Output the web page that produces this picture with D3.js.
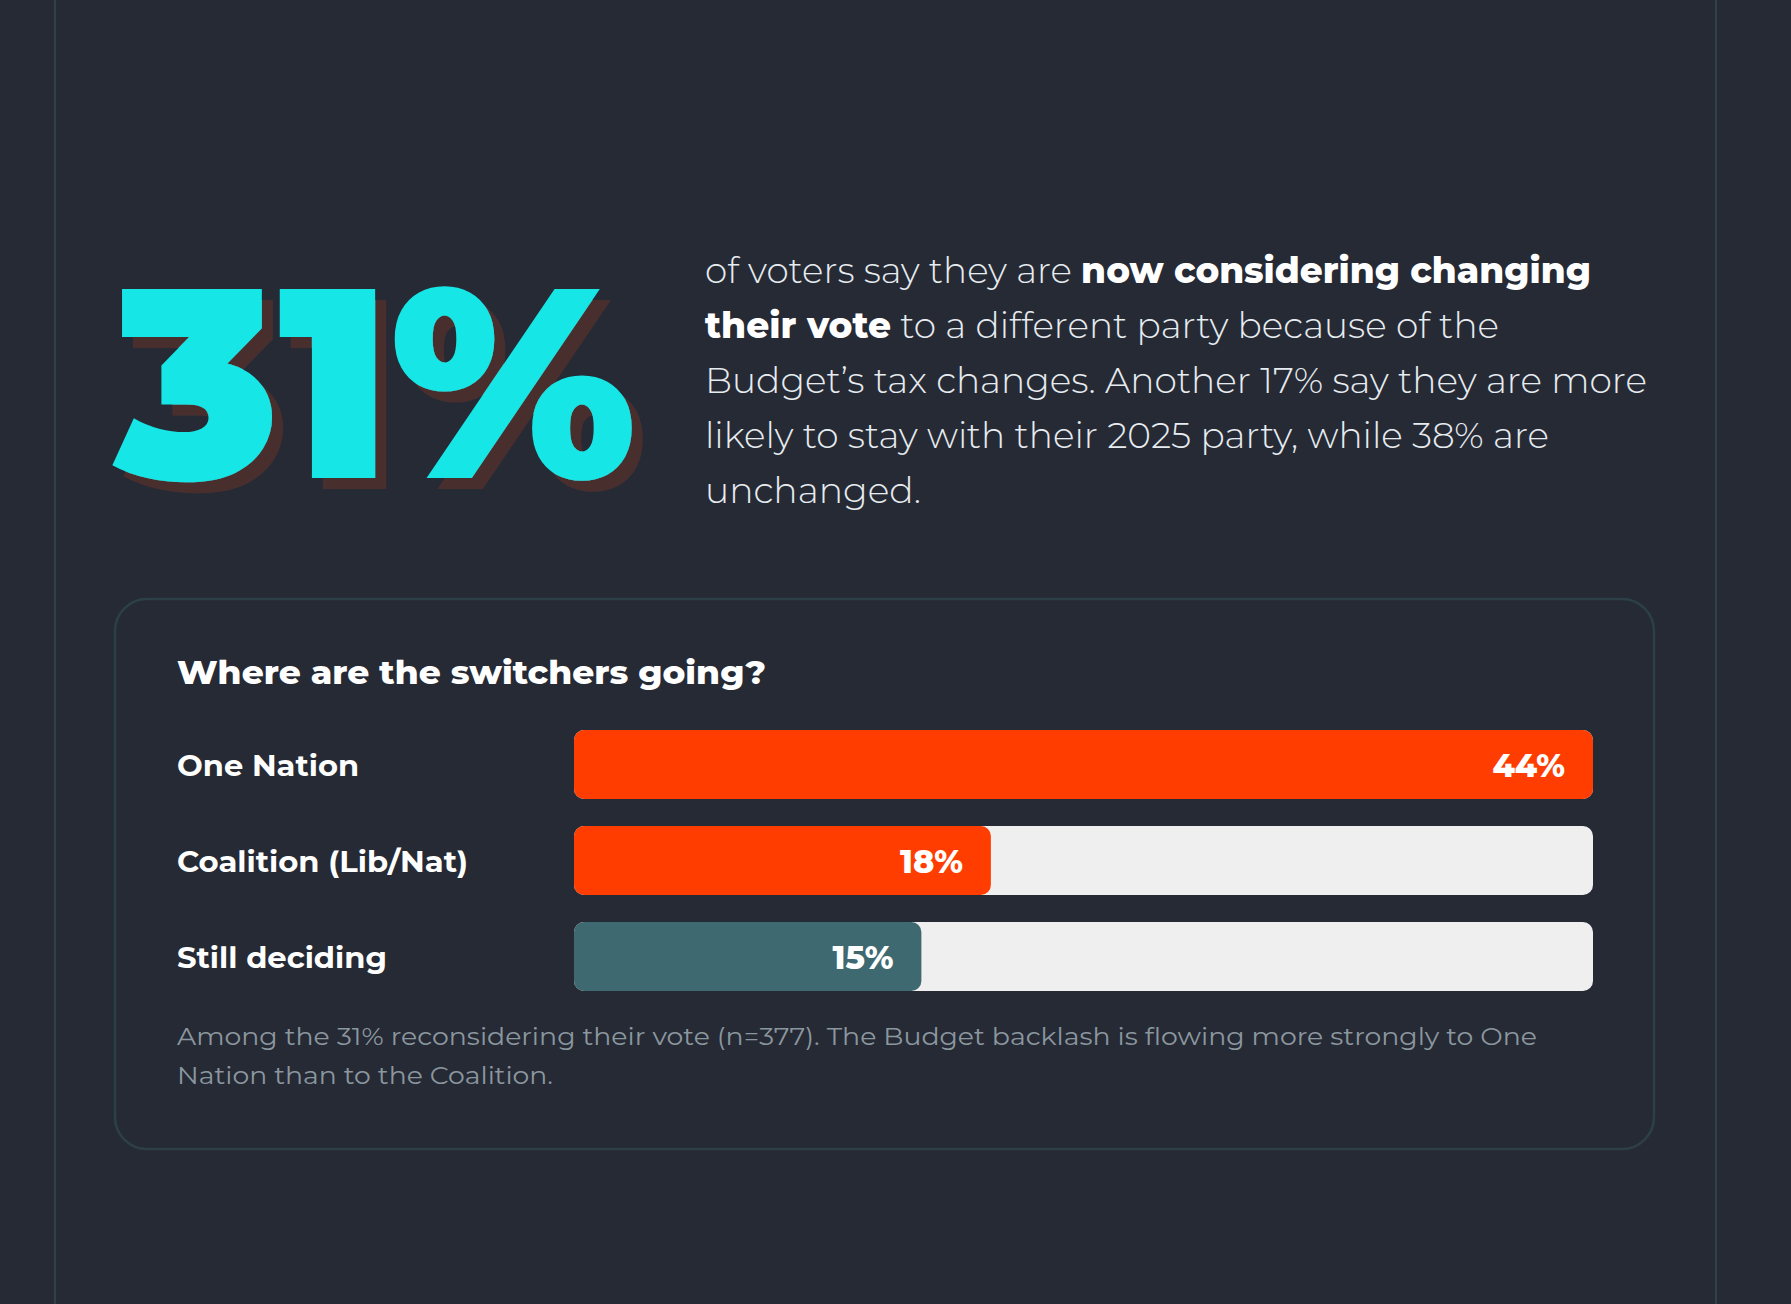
<!DOCTYPE html>
<html>
<head>
<meta charset="utf-8">
<script src="https://cdn.jsdelivr.net/npm/d3@7"></script>
<style>
  html, body { margin: 0; padding: 0; background: #262a35; }
  svg { display: block; }
  text { font-family: Montserrat, Inter, "Noto Sans", sans-serif; }
</style>
</head>
<body>
<div id="chart"></div>
<script>
// headline figure
const headline = '31%';

// paragraph, one entry per line, [text, bold]
const paragraphLines = [
  [['of voters say they are ', false], ['now considering changing', true]],
  [['their vote', true], [' to a different party because of the', false]],
  [['Budget\u2019s tax changes. Another 17% say they are more', false]],
  [['likely to stay with their 2025 party, while 38% are', false]],
  [['unchanged.', false]]
];
const paragraphEnds = [1591, 1499, 1647, 1549, 921];

const chartTitle = 'Where are the switchers going?';
const categories = ['One Nation', 'Coalition (Lib/Nat)', 'Still deciding'];
const values = [44, 18, 15];
const barColors = ['#ff3d00', '#ff3d00', '#3f6971'];

const captionLines = [
  'Among the 31% reconsidering their vote (n=377). The Budget backlash is flowing more strongly to One',
  'Nation than to the Coalition.'
];
const captionEnds = [1537, 553];

const width = 1791, height = 1304;

const svg = d3.select('#chart').append('svg')
  .attr('width', width)
  .attr('height', height);

// hard offset shadow for the big number
const shadow = svg.append('defs').append('filter')
  .attr('id', 'hardShadow')
  .attr('x', '-10%').attr('y', '-10%')
  .attr('width', '130%').attr('height', '130%');
shadow.append('feOffset').attr('in', 'SourceAlpha').attr('dx', 11).attr('dy', 11).attr('result', 'off');
shadow.append('feFlood').attr('flood-color', '#4a2f2f').attr('result', 'col');
shadow.append('feComposite').attr('in', 'col').attr('in2', 'off').attr('operator', 'in').attr('result', 'sh');
const merge = shadow.append('feMerge');
merge.append('feMergeNode').attr('in', 'sh');
merge.append('feMergeNode').attr('in', 'SourceGraphic');

svg.append('rect').attr('width', width).attr('height', height).attr('fill', '#262a35');

// page side rules
svg.selectAll('.rule')
  .data([55, 1716])
  .join('line')
  .attr('x1', d => d).attr('x2', d => d)
  .attr('y1', 0).attr('y2', height)
  .attr('stroke', '#2e4048')
  .attr('stroke-width', 2);

// big number
svg.append('text')
  .attr('x', 114)
  .attr('y', 478)
  .attr('fill', '#14e6e6')
  .attr('font-size', 270)
  .attr('font-weight', 900)
  .attr('textLength', 522)
  .attr('lengthAdjust', 'spacingAndGlyphs')
  .attr('filter', 'url(#hardShadow)')
  .text(headline);

// paragraph
const para = svg.append('g');
paragraphLines.forEach((line, i) => {
  const t = para.append('text')
    .attr('x', 705)
    .attr('y', 283 + i * 55)
    .attr('font-size', 36)
    .attr('textLength', paragraphEnds[i] - 705)
    .attr('lengthAdjust', 'spacingAndGlyphs');
  line.forEach(([s, bold]) => {
    t.append('tspan')
      .attr('fill', bold ? '#ffffff' : '#e6ecf0')
      .attr('font-weight', bold ? 800 : 300)
      .text(s);
  });
});

// card
svg.append('rect')
  .attr('x', 115).attr('y', 599)
  .attr('width', 1539).attr('height', 550)
  .attr('rx', 32)
  .attr('fill', 'none')
  .attr('stroke', '#2d3f47')
  .attr('stroke-width', 2.5);

svg.append('text')
  .attr('x', 177).attr('y', 684)
  .attr('fill', '#ffffff')
  .attr('font-size', 33)
  .attr('font-weight', 800)
  .attr('textLength', 766 - 177)
  .attr('lengthAdjust', 'spacingAndGlyphs')
  .text(chartTitle);

// bars
const trackX = 574, trackW = 1019;
const x = d3.scaleLinear().domain([0, d3.max(values)]).range([0, trackW]);
const y = d3.scaleBand().domain(categories).range([730, 991]).paddingInner(0.28125).paddingOuter(0);

const labelEnds = [359, 468, 387];
const rows = svg.append('g').selectAll('g')
  .data(categories.map((c, i) => ({ c, v: values[i], color: barColors[i], end: labelEnds[i] })))
  .join('g')
  .attr('transform', d => `translate(0,${y(d.c)})`);

rows.append('text')
  .attr('x', 177)
  .attr('y', y.bandwidth() / 2 + 11)
  .attr('fill', '#ffffff')
  .attr('font-size', 29)
  .attr('font-weight', 700)
  .attr('textLength', d => d.end - 177)
  .attr('lengthAdjust', 'spacingAndGlyphs')
  .text(d => d.c);

rows.append('rect')
  .attr('x', trackX)
  .attr('width', trackW)
  .attr('height', y.bandwidth())
  .attr('rx', 10)
  .attr('fill', '#efefef');

rows.append('rect')
  .attr('x', trackX)
  .attr('width', d => x(d.v))
  .attr('height', y.bandwidth())
  .attr('rx', 10)
  .attr('fill', d => d.color);

rows.append('text')
  .attr('x', d => trackX + x(d.v) - 28)
  .attr('y', y.bandwidth() / 2 + 12)
  .attr('text-anchor', 'end')
  .attr('fill', '#ffffff')
  .attr('font-size', 32)
  .attr('font-weight', 800)
  .text(d => d.v + '%');

// caption
captionLines.forEach((s, i) => {
  svg.append('text')
    .attr('x', 177)
    .attr('y', 1045 + i * 39)
    .attr('fill', '#8b979f')
    .attr('font-size', 24)
    .attr('font-weight', 400)
    .attr('textLength', captionEnds[i] - 177)
    .attr('lengthAdjust', 'spacingAndGlyphs')
    .text(s);
});
</script>
</body>
</html>
